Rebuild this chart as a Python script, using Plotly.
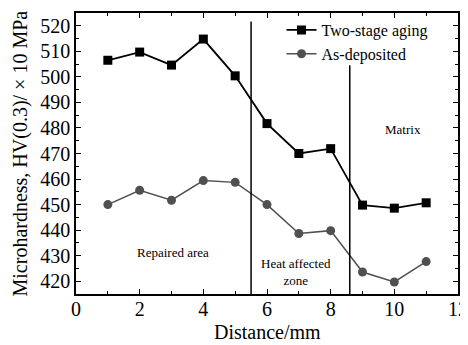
import plotly.graph_objects as go

distance = [1, 2, 3, 4, 5, 6, 7, 8, 9, 10, 11]
two_stage = [506.5, 509.7, 504.6, 514.8, 500.4, 481.7, 470.0, 471.9, 449.8, 448.6, 450.7]
as_deposited = [450.0, 455.6, 451.7, 459.4, 458.7, 450.0, 438.7, 439.8, 423.6, 419.7, 427.7]
boundaries = [5.5, 8.6]
boundary_tops = [521.7, 504.5]

FONT = '"Liberation Serif", "Times New Roman", serif'

fig = go.Figure()
fig.add_trace(go.Scatter(x=distance, y=two_stage, mode="lines+markers", name="Two-stage aging",
                         line=dict(color="black", width=1.8),
                         marker=dict(symbol="square", size=9, color="black")))
fig.add_trace(go.Scatter(x=distance, y=as_deposited, mode="lines+markers", name="As-deposited",
                         line=dict(color="#505050", width=1.5),
                         marker=dict(symbol="circle", size=9, color="#505050")))

for bx, top in zip(boundaries, boundary_tops):
    fig.add_shape(type="line", x0=bx, x1=bx, y0=415, y1=top, xref="x", yref="y",
                  line=dict(color="black", width=1.5))

fig.add_annotation(x=3.05, y=431.2, text="Repaired area", showarrow=False,
                   font=dict(family=FONT, size=13, color="black"))
fig.add_annotation(x=6.9, y=423.5, text="Heat affected<br>zone", showarrow=False,
                   font=dict(family=FONT, size=13, color="black"))
fig.add_annotation(x=10.26, y=479.3, text="Matrix", showarrow=False,
                   font=dict(family=FONT, size=13, color="black"))

# axis titles
fig.add_annotation(x=0.5, y=0, xref="paper", yref="paper", yshift=-38, text="Distance/mm",
                   showarrow=False, xanchor="center", yanchor="middle",
                   font=dict(family=FONT, size=20, color="black"))
fig.add_annotation(x=0, y=0.5, xref="paper", yref="paper", xshift=-56,
                   text="Microhardness, HV(0.3)/ × 10 MPa", textangle=-90,
                   showarrow=False, xanchor="center", yanchor="middle",
                   font=dict(family=FONT, size=20, color="black"))

axis_common = dict(showline=True, linecolor="black", linewidth=1.5, mirror="allticks",
                   ticks="inside", ticklen=5, tickwidth=1.2, tickcolor="black",
                   showgrid=False, zeroline=False, automargin=False,
                   tickfont=dict(family=FONT, size=20, color="black"))

fig.update_xaxes(range=[0, 12], dtick=2, tick0=0, ticklabelstandoff=-4,
                 minor=dict(ticks="inside", dtick=1, ticklen=3, tickcolor="black"),
                 **axis_common)
fig.update_yaxes(range=[415, 525], dtick=10, tick0=420,
                 minor=dict(ticks="inside", dtick=5, ticklen=3, tickcolor="black"),
                 **axis_common)

fig.update_layout(width=460, height=337, margin=dict(l=68, r=10, t=5, b=51),
                  plot_bgcolor="white", paper_bgcolor="white",
                  showlegend=True,
                  legend=dict(x=0.538, y=1.0, xanchor="left", yanchor="top", bgcolor="rgba(0,0,0,0)",
                              font=dict(family=FONT, size=16, color="black"),
                              tracegroupgap=0, itemwidth=30))

fig.write_html("out.html")
